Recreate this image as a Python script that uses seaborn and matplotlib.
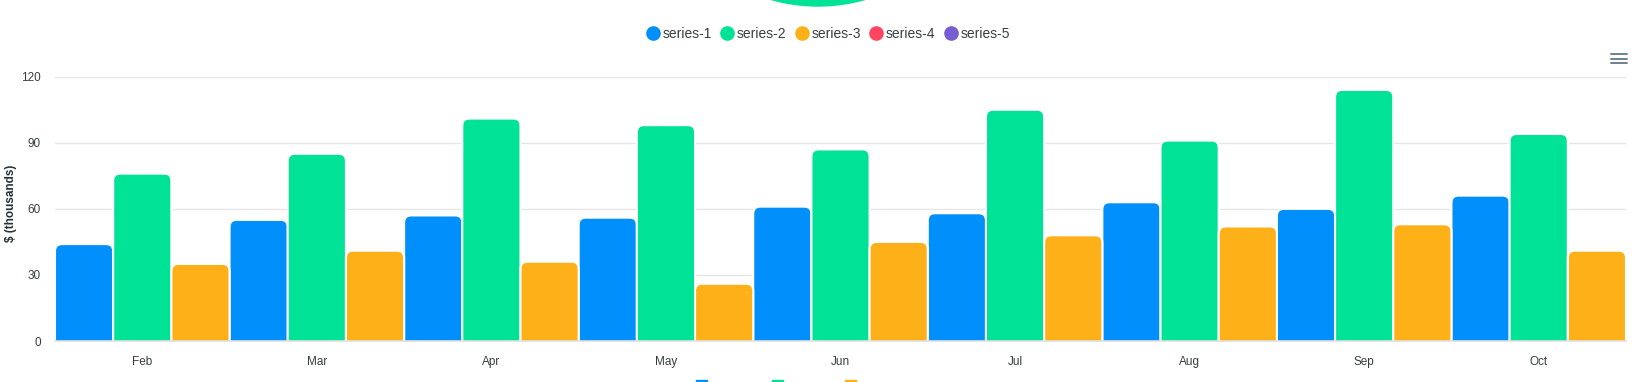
import numpy as np
import pandas as pd
import matplotlib
matplotlib.use("Agg")
import matplotlib.pyplot as plt
import seaborn as sns
from matplotlib.patches import FancyBboxPatch, Ellipse, Rectangle
from matplotlib.lines import Line2D

# data
months = ['Feb', 'Mar', 'Apr', 'May', 'Jun', 'Jul', 'Aug', 'Sep', 'Oct']
series_1 = [44, 55, 57, 56, 61, 58, 63, 60, 66]
series_2 = [76, 85, 101, 98, 87, 105, 91, 114, 94]
series_3 = [35, 41, 36, 26, 45, 48, 52, 53, 41]
legend_names = ['series-1', 'series-2', 'series-3', 'series-4', 'series-5']
colors = ['#008FFB', '#00E396', '#FEB019', '#FF4560', '#775DD0']
y_ticks = [0, 30, 60, 90, 120]

df = pd.DataFrame({
    'month': months * 3,
    'value': series_1 + series_2 + series_3,
    'series': ['series-1'] * 9 + ['series-2'] * 9 + ['series-3'] * 9,
})

sns.set_style('white')
plt.rcParams['font.family'] = ['Liberation Sans', 'DejaVu Sans']
text_col = '#373d3f'

W, H = 1643, 382
fig = plt.figure(figsize=(W / 100, H / 100), dpi=100)
ax = fig.add_axes([55 / W, 1 - 341 / H, (1626 - 55) / W, (341 - 76.7) / H])

sns.barplot(data=df, x='month', y='value', hue='series', palette=colors[:3],
            width=1.0, saturation=1, errorbar=None, legend=False, ax=ax)

# rounded tops like the original (bottom rounding is clipped below 0)
for p in list(ax.patches):
    x, w, h = p.get_x(), p.get_width(), p.get_height()
    fc = p.get_facecolor()
    p.remove()
    ax.add_patch(FancyBboxPatch((x, -6), w, h + 6,
                                boxstyle='round,pad=0,rounding_size=0.04',
                                mutation_aspect=80, fc=fc, ec='white', lw=1.5))

ax.set_ylim(0, 120)
ax.set_xlim(-0.5, 8.5)
ax.set_yticks(y_ticks)
ax.yaxis.grid(True, color='#e6e6e6', lw=1)
ax.set_axisbelow(True)
for s in ['left', 'right', 'top']:
    ax.spines[s].set_visible(False)
ax.spines['bottom'].set_color('#e0e0e0')
ax.spines['bottom'].set_linewidth(1.2)
ax.set_xticks(np.arange(-0.5, 9, 1), minor=True)
ax.tick_params(axis='x', which='minor', length=6, color='#e0e0e0', width=1)
ax.tick_params(axis='x', which='major', length=0, pad=11, labelsize=8.5, labelcolor=text_col)
ax.tick_params(axis='y', length=0, pad=10, labelsize=8.5, labelcolor=text_col)
ax.set_xlabel('')
ax.set_ylabel('$ (thousands)', fontsize=8.5, fontweight='bold', color='#263238')
ax.yaxis.set_label_coords(-0.0242, 0.52)

# legend with all five series
handles = [Line2D([], [], marker='o', ls='', markersize=9.5, color=c) for c in colors]
fig.legend(handles, legend_names, loc='center', bbox_to_anchor=(828 / W, 1 - 34 / H),
           ncol=5, frameon=False, fontsize=10, handletextpad=0.2, columnspacing=0.6,
           handlelength=1, labelcolor=text_col)

# cut-off green shape of the chart above
fig.patches.append(Ellipse((818 / W, (H + 166) / H), 2 * 172 / W, 2 * 172 / H,
                           transform=fig.transFigure, color='#00E396', zorder=0))

# cut-off legend squares of the chart below
for xx, c in zip([696, 772, 845], colors[:3]):
    fig.patches.append(Rectangle((xx / W, 0), 11 / W, 2.5 / H,
                                 transform=fig.transFigure, color=c))

# menu icon
for yy in [54, 58.5, 63]:
    fig.lines.append(Line2D([1611 / W, 1627 / W], [1 - yy / H] * 2,
                            transform=fig.transFigure, color='#6E8192', lw=1.4))

fig.savefig('out.png', dpi=100)
